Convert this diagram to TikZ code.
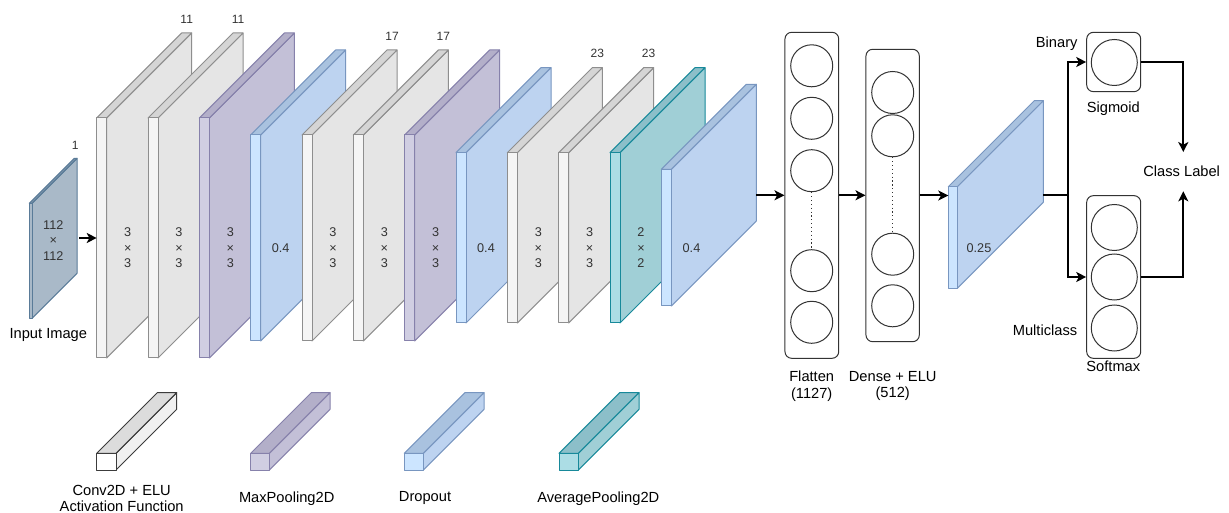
\documentclass[tikz,border=0pt]{standalone}
\usepackage{fontspec}
\setmainfont{Liberation Sans}
\usetikzlibrary{arrows.meta,calc}

% colour sets: F = front face, S = side face, T = top face, D = outline
\definecolor{convF}{HTML}{F5F5F5}\definecolor{convS}{HTML}{E5E5E5}
\definecolor{convT}{HTML}{D5D5D5}\definecolor{convD}{HTML}{8E8E8E}
\definecolor{legcF}{HTML}{FFFFFF}\definecolor{legcS}{HTML}{F0F0F0}
\definecolor{legcT}{HTML}{DCDCDC}\definecolor{legcD}{HTML}{3C3C3C}
\definecolor{poolF}{HTML}{D0CEE2}\definecolor{poolS}{HTML}{C3C0D7}
\definecolor{poolT}{HTML}{B3AFC9}\definecolor{poolD}{HTML}{8681AB}
\definecolor{dropF}{HTML}{CCE5FF}\definecolor{dropS}{HTML}{BDD3F0}
\definecolor{dropT}{HTML}{A9C2DF}\definecolor{dropD}{HTML}{7896C0}
\definecolor{avgF}{HTML}{ACDDE5}\definecolor{avgS}{HTML}{A0CFD6}
\definecolor{avgT}{HTML}{8CBFC9}\definecolor{avgD}{HTML}{17899A}
\definecolor{inF}{HTML}{A9B9C8}\definecolor{inS}{HTML}{A9B9C8}
\definecolor{inT}{HTML}{7F97AE}\definecolor{inD}{HTML}{5A7B98}
\definecolor{ink}{HTML}{333333}

% a layer drawn as a box seen from the front-left:
% #1 colour set, #2 x of front, #3 top, #4 bottom, #5 front width, #6 depth, #7 name
\newcommand\layerslab[7]{%
  \filldraw[slabline, draw=#1D, fill=#1S]
    (#2+#5,#3) -- ++(#6,-#6) -- ++(0,#4-#3) -- (#2+#5,#4) -- cycle;
  \filldraw[slabline, draw=#1D, fill=#1T]
    (#2,#3) -- ++(#6,-#6) -- ++(#5,0) -- (#2+#5,#3) -- cycle;
  \filldraw[slabline, draw=#1D, fill=#1F]
    (#2,#3) rectangle ++(#5,#4-#3);
  \coordinate (#7-w) at (#2,{(#3+#4)/2});
  \coordinate (#7-e) at ({#2+#5+#6},{(#3+#4)/2-#6});
}

\tikzset{
  slabline/.style={line width=0.75pt, line join=round},
  lbl/.style={font=\fontsize{11}{12.5}\selectfont, text=black, inner sep=1pt, align=center},
  kern/.style={font=\fontsize{9.5}{11.6}\selectfont, text=ink, inner sep=0pt, align=center},
  toplbl/.style={font=\fontsize{9}{10}\selectfont, text=ink, inner sep=0pt},
  arr/.style={line width=1.5pt, -{Stealth[length=7.5pt,width=7.5pt,inset=2pt]}},
  wire/.style={line width=1.5pt},
  panel/.style={draw=ink, line width=0.75pt, rounded corners=5pt, fill=white, inner sep=0pt},
  neuron/.style={circle, draw=ink, line width=0.75pt, fill=white, inner sep=0pt, minimum size=31.5pt},
  bigneuron/.style={neuron, minimum size=34.5pt},
  gap/.style={dotted, line width=0.9pt, ink},
}

\begin{document}
\begin{tikzpicture}[x=0.75pt,y=-0.75pt]
\fill[white] (0,0) rectangle (1229,513);
\useasboundingbox (0,0) rectangle (1229,513);

% input image
\layerslab{in}{29.3}{203.3}{318.3}{2.7}{45}{img}
\node[kern] (imgsize) at (53.3,240.5) {112\\×\\112};
\node[toplbl] (imgch) at (75.3,145) {1};
\node[lbl] (imglbl) at (48.3,335) {Input Image};

% convolutional feature extractor
\layerslab{conv}{96.7}{118}{358}{10}{85}{c1}
\node[kern] (k1) at (127.7,248) {3\\×\\3};
\node[toplbl] (n1) at (186.7,19) {11};
\layerslab{conv}{148}{118}{358}{10}{85}{c2}
\node[kern] (k2) at (179,248) {3\\×\\3};
\node[toplbl] (n2) at (238,19) {11};
\layerslab{pool}{199.3}{118}{358}{10}{85}{p1}
\node[kern] (k3) at (230.3,248) {3\\×\\3};
\layerslab{drop}{250.6}{135}{341}{10}{85}{d1}
\node[kern] (k4) at (280.6,248) {0.4};

\layerslab{conv}{302}{135}{341}{10}{85}{c3}
\node[kern] (k5) at (333,248) {3\\×\\3};
\node[toplbl] (n3) at (392,36) {17};
\layerslab{conv}{353.3}{135}{341}{10}{85}{c4}
\node[kern] (k6) at (384.3,248) {3\\×\\3};
\node[toplbl] (n4) at (443.3,36) {17};
\layerslab{pool}{404.6}{135}{341}{10}{85}{p2}
\node[kern] (k7) at (435.6,248) {3\\×\\3};
\layerslab{drop}{456}{152.7}{323}{10}{85}{d2}
\node[kern] (k8) at (486,248) {0.4};

\layerslab{conv}{507.3}{152.7}{323}{10}{85}{c5}
\node[kern] (k9) at (538.3,248) {3\\×\\3};
\node[toplbl] (n5) at (597.3,53) {23};
\layerslab{conv}{558.6}{152.7}{323}{10}{85}{c6}
\node[kern] (k10) at (589.6,248) {3\\×\\3};
\node[toplbl] (n6) at (648.6,53) {23};
\layerslab{avg}{610}{152.7}{323}{10}{85}{a1}
\node[kern] (k11) at (641,248) {2\\×\\2};
\layerslab{drop}{661.3}{169.3}{306}{10}{85}{d3}
\node[kern] (k12) at (691.5,248) {0.4};

\draw[arr] ([xshift=1.5pt]img-e |- c1-w) -- (c1-w);

% flatten column
\node[panel, minimum width=40.3pt, minimum height=244.5pt] (flatten) at (811.85,195.3) {};
\node[neuron] (f1) at (811.7,65.8) {};
\node[neuron] (f2) at (811.7,118.3) {};
\node[neuron] (f3) at (811.7,170.7) {};
\node[neuron] (f4) at (811.7,270.7) {};
\node[neuron] (f5) at (811.7,322.3) {};
\draw[gap] (f3.south) -- (f4.north);
\node[lbl] (flatlbl) at (811.7,386) {Flatten\\(1127)};

% dense column
\node[panel, minimum width=40pt, minimum height=219.3pt] (dense) at (892.65,195.5) {};
\node[neuron] (e1) at (892.7,92.5) {};
\node[neuron] (e2) at (892.7,135.8) {};
\node[neuron] (e3) at (892.7,254.2) {};
\node[neuron] (e4) at (892.7,305.8) {};
\draw[gap] (e2.south) -- (e3.north);
\node[lbl] (denselbl) at (892.7,386) {Dense + ELU\\(512)};

\draw[arr] (d3-e |- flatten.west) -- (flatten.west);
\draw[arr] (flatten.east) -- (flatten.east -| dense.west);

% final dropout
\layerslab{drop}{948.3}{186.7}{288.3}{9}{86}{d4}
\node[kern] (k13) at (979,248.5) {0.25};
\draw[arr] (dense.east) -- (dense.east -| d4-w);

% output heads
\node[panel, minimum width=40.5pt, minimum height=44.5pt] (sigmoid) at (1113.7,62) {};
\node[bigneuron] (s1) at (1114.3,62.5) {};
\node[panel, minimum width=40.5pt, minimum height=122pt] (softmax) at (1113.7,277) {};
\node[bigneuron] (m1) at (1114.3,227.5) {};
\node[bigneuron] (m2) at (1114.3,277) {};
\node[bigneuron] (m3) at (1114.3,328) {};

\node[lbl] (binlbl) at (1056.7,43.3) {Binary};
\node[lbl] (siglbl) at (1113.3,108.3) {Sigmoid};
\node[lbl] (multilbl) at (1045,330) {Multiclass};
\node[lbl] (softlbl) at (1113.3,366.7) {Softmax};
\node[lbl, inner ysep=10.5pt] (classlbl) at (1181.7,171.7) {Class Label};

\coordinate (branch) at (1067.7,195.5);
\draw[wire] (d4-e |- branch) -- (branch);
\draw[arr] (branch) |- (sigmoid.west);
\draw[arr] (branch) |- (softmax.west);
\draw[arr] (sigmoid.east) -| ([xshift=1.2pt]classlbl.north);
\draw[arr] (softmax.east) -| ([xshift=1.2pt]classlbl.south);

% legend
\layerslab{legc}{96.7}{453.3}{470}{19.3}{60.7}{g1}
\node[lbl] (g1lbl) at (121.7,498.3) {Conv2D + ELU\\Activation Function};
\layerslab{pool}{250.7}{453.3}{470}{18.6}{60.7}{g2}
\node[lbl] (g2lbl) at (286.7,498.3) {MaxPooling2D};
\layerslab{drop}{404.3}{453.3}{470}{19}{60.7}{g3}
\node[lbl] (g3lbl) at (425,498.3) {Dropout};
\layerslab{avg}{559}{453.3}{470}{19.3}{60.7}{g4}
\node[lbl] (g4lbl) at (598.3,498.3) {AveragePooling2D};
\end{tikzpicture}
\end{document}
